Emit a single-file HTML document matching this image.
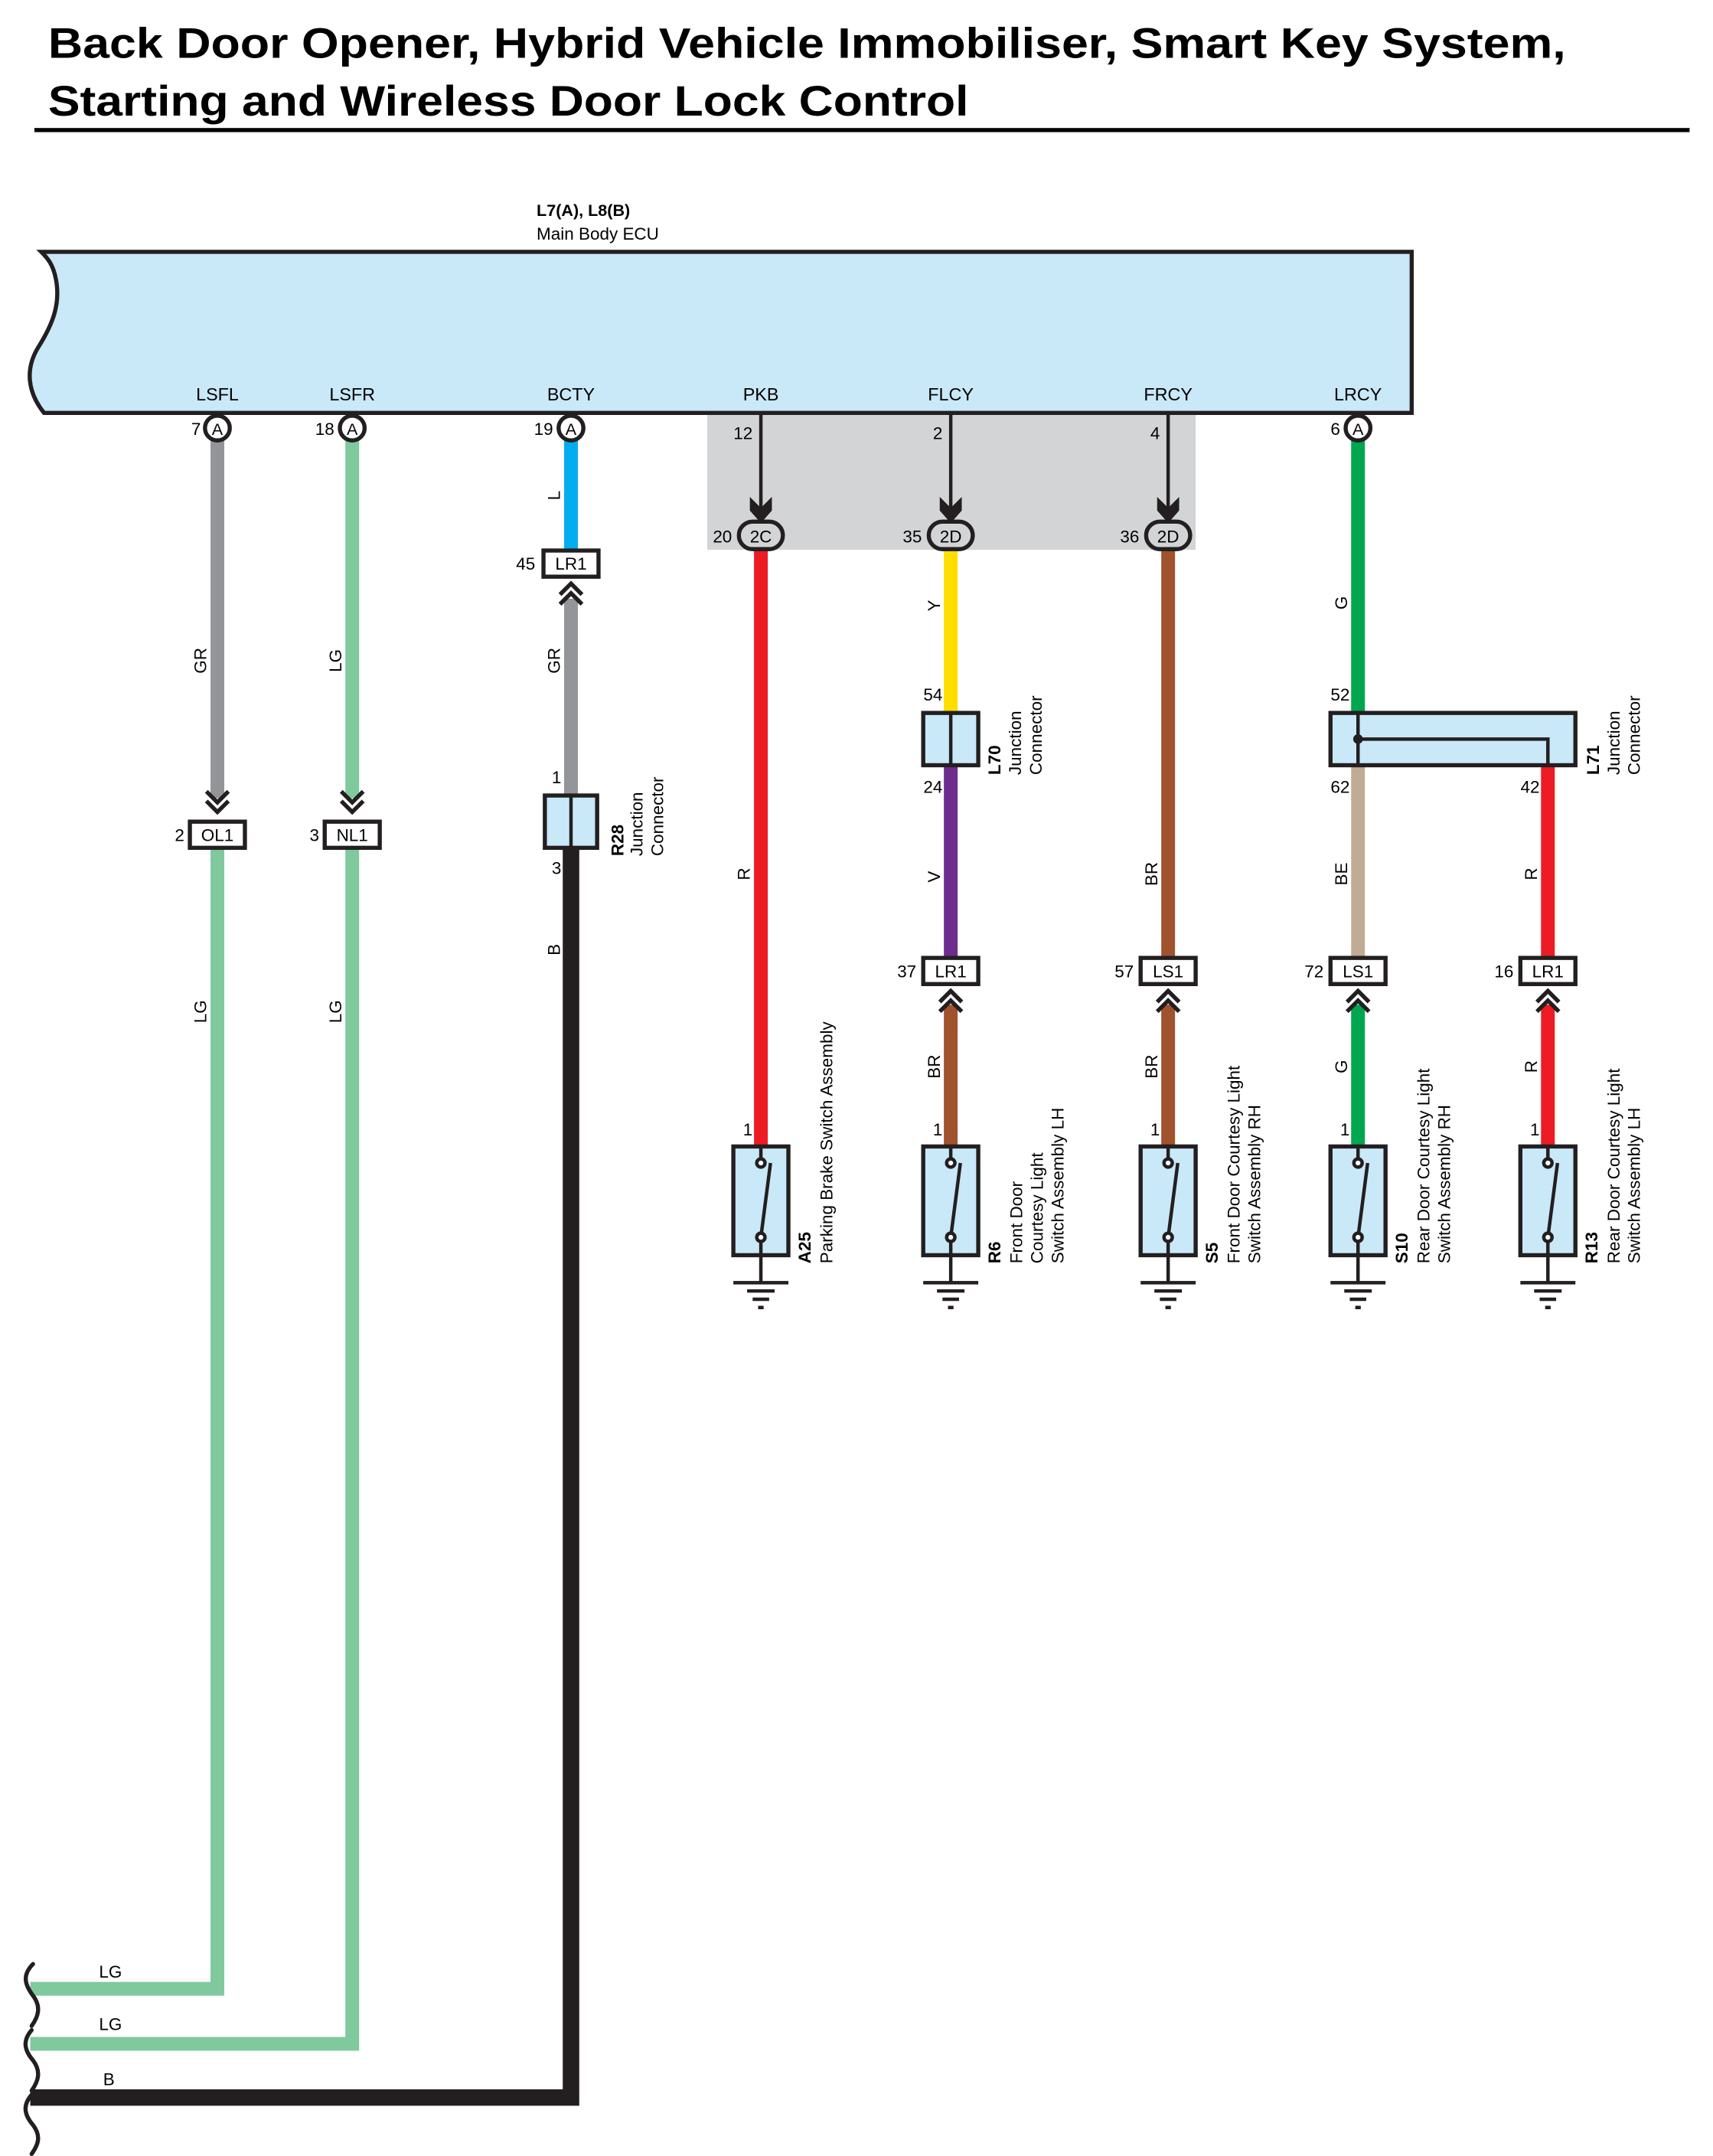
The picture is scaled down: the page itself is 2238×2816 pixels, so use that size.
<!DOCTYPE html>
<html><head><meta charset="utf-8"><style>html,body{margin:0;padding:0;background:#fff}svg{display:block}</style></head><body>
<svg width="2238" height="2816" viewBox="0 0 1245 1566.5" preserveAspectRatio="none" xmlns="http://www.w3.org/2000/svg" font-family="Liberation Sans, Arial, sans-serif">
<text x="35" y="42" font-size="31" font-weight="bold" fill="#000" textLength="1103" lengthAdjust="spacingAndGlyphs">Back Door Opener, Hybrid Vehicle Immobiliser, Smart Key System,</text>
<text x="35" y="84" font-size="31" font-weight="bold" fill="#000" textLength="669" lengthAdjust="spacingAndGlyphs">Starting and Wireless Door Lock Control</text>
<rect x="25" y="93" width="1203" height="3" fill="#000"/>
<text x="390" y="157" font-size="12" font-weight="bold">L7(A), L8(B)</text>
<text x="390" y="174" font-size="12.5">Main Body ECU</text>
<path d="M30,183 L1026,183 L1026,300 L32,300 C20,285 18,268 28,252 C38,236 45,220 40,200 C38,192 35,188 30,183 Z" fill="#c9e8f8" stroke="#231f20" stroke-width="3"/>
<rect x="514" y="301.5" width="355" height="98" fill="#d3d4d6"/>
<g font-size="13" text-anchor="middle"><text x="158" y="291">LSFL</text><text x="256" y="291">LSFR</text><text x="415" y="291">BCTY</text><text x="553" y="291">PKB</text><text x="691" y="291">FLCY</text><text x="849" y="291">FRCY</text><text x="987" y="291">LRCY</text></g>
<g fill="none" stroke-width="10">
<line x1="158" y1="318" x2="158" y2="580" stroke="#939598"/>
<path d="M158,616 L158,1445 L22,1445" stroke="#80c99d"/>
<line x1="256" y1="318" x2="256" y2="580" stroke="#80c99d"/>
<path d="M256,616 L256,1485 L22,1485" stroke="#80c99d"/>
<line x1="415" y1="318" x2="415" y2="400" stroke="#00aeef"/>
<line x1="415" y1="435" x2="415" y2="578" stroke="#939598"/>
<path d="M415,616 L415,1524 L22,1524" stroke="#231f20" stroke-width="12"/>
<line x1="553" y1="398" x2="553" y2="833" stroke="#ed1c24"/>
<line x1="691" y1="398" x2="691" y2="518" stroke="#ffde00"/>
<line x1="691" y1="556" x2="691" y2="696" stroke="#6f2c8f"/>
<line x1="691" y1="730" x2="691" y2="833" stroke="#a0522d"/>
<line x1="849" y1="398" x2="849" y2="696" stroke="#a0522d"/>
<line x1="849" y1="730" x2="849" y2="833" stroke="#a0522d"/>
<line x1="987" y1="318" x2="987" y2="518" stroke="#00a650"/>
<line x1="987" y1="556" x2="987" y2="696" stroke="#c2ab94"/>
<line x1="987" y1="730" x2="987" y2="833" stroke="#00a650"/>
<line x1="1125" y1="556" x2="1125" y2="696" stroke="#ed1c24"/>
<line x1="1125" y1="730" x2="1125" y2="833" stroke="#ed1c24"/>
</g>
<g fill="#fff" stroke="#231f20" stroke-width="3"><circle cx="158" cy="311" r="9"/><circle cx="256" cy="311" r="9"/><circle cx="415" cy="311" r="9"/><circle cx="987" cy="311" r="9"/></g>
<g font-size="12" text-anchor="middle"><text x="158" y="316">A</text><text x="256" y="316">A</text><text x="415" y="316">A</text><text x="987" y="316">A</text></g>
<g font-size="12.5" text-anchor="end"><text x="146" y="316">7</text><text x="243" y="316">18</text><text x="402" y="316">19</text><text x="974" y="316">6</text></g>
<g stroke="#231f20" stroke-width="2.5"><line x1="553" y1="300" x2="553" y2="370"/><line x1="691" y1="300" x2="691" y2="370"/><line x1="849" y1="300" x2="849" y2="370"/></g>
<g fill="#231f20"><polygon points="545,361 553,369 561,361 561,371 553,380 545,371"/><polygon points="683,361 691,369 699,361 699,371 691,380 683,371"/><polygon points="841,361 849,369 857,361 857,371 849,380 841,371"/></g>
<g fill="none" stroke="#231f20" stroke-width="3"><rect x="537" y="379" width="32" height="20" rx="10"/><rect x="675" y="379" width="32" height="20" rx="10"/><rect x="833" y="379" width="32" height="20" rx="10"/></g>
<g font-size="12.5" text-anchor="middle"><text x="553" y="394">2C</text><text x="691" y="394">2D</text><text x="849" y="394">2D</text></g>
<g font-size="12.5" text-anchor="end"><text x="532" y="394">20</text><text x="670" y="394">35</text><text x="828" y="394">36</text><text x="547" y="319">12</text><text x="685" y="319">2</text><text x="843" y="319">4</text></g>
<g fill="none" stroke="#231f20" stroke-width="3">
<polyline points="150,575 158,583 166,575"/><polyline points="150,582 158,590 166,582"/>
<polyline points="248,575 256,583 264,575"/><polyline points="248,582 256,590 264,582"/>
<polyline points="407,432 415,424 423,432"/><polyline points="407,439 415,431 423,439"/>
<polyline points="683,728 691,720 699,728"/><polyline points="683,735 691,727 699,735"/>
<polyline points="841,728 849,720 857,728"/><polyline points="841,735 849,727 857,735"/>
<polyline points="979,728 987,720 995,728"/><polyline points="979,735 987,727 995,735"/>
<polyline points="1117,728 1125,720 1133,728"/><polyline points="1117,735 1125,727 1133,735"/>
</g>
<g fill="#fff" stroke="#231f20" stroke-width="3">
<rect x="138" y="597" width="40" height="19"/><rect x="236" y="597" width="40" height="19"/>
<rect x="395" y="400" width="40" height="19"/>
<rect x="671" y="696" width="40" height="19"/><rect x="829" y="696" width="40" height="19"/><rect x="967" y="696" width="40" height="19"/><rect x="1105" y="696" width="40" height="19"/>
</g>
<g font-size="12.5" text-anchor="middle"><text x="158" y="611">OL1</text><text x="256" y="611">NL1</text><text x="415" y="414">LR1</text><text x="691" y="710">LR1</text><text x="849" y="710">LS1</text><text x="987" y="710">LS1</text><text x="1125" y="710">LR1</text></g>
<g font-size="12.5" text-anchor="end"><text x="134" y="611">2</text><text x="232" y="611">3</text><text x="389" y="414">45</text><text x="666" y="710">37</text><text x="824" y="710">57</text><text x="962" y="710">72</text><text x="1100" y="710">16</text>
<text x="408" y="569">1</text><text x="408" y="635">3</text><text x="685" y="509">54</text><text x="685" y="576">24</text><text x="981" y="509">52</text><text x="981" y="576">62</text><text x="1119" y="576">42</text>
<text x="547" y="825">1</text><text x="685" y="825">1</text><text x="843" y="825">1</text><text x="981" y="825">1</text><text x="1119" y="825">1</text></g>
<g fill="#c9e8f8" stroke="#231f20" stroke-width="3"><rect x="396" y="578" width="38" height="38"/><rect x="671" y="518" width="40" height="38"/><rect x="967" y="518" width="178" height="38"/></g>
<g stroke="#231f20" stroke-width="2.5" fill="none"><line x1="415" y1="578" x2="415" y2="616"/><line x1="691" y1="518" x2="691" y2="556"/><path d="M987,518 L987,556 M987,537 L1125,537 L1125,556"/></g>
<circle cx="987" cy="537" r="3.5" fill="#231f20"/>
<g fill="#c9e8f8" stroke="#231f20" stroke-width="3"><rect x="533" y="833" width="40" height="79"/><rect x="671" y="833" width="40" height="79"/><rect x="829" y="833" width="40" height="79"/><rect x="967" y="833" width="40" height="79"/><rect x="1105" y="833" width="40" height="79"/></g>
<g stroke="#231f20" stroke-width="2.5" fill="#fff">
<g><path d="M553,833v9M553,903v29M533,932h40M543,938h20M547,944h12M551,950h4" fill="none"/><line x1="553" y1="899" x2="560" y2="845"/><circle cx="553" cy="845" r="3"/><circle cx="553" cy="899" r="3"/></g>
<g transform="translate(138,0)"><path d="M553,833v9M553,903v29M533,932h40M543,938h20M547,944h12M551,950h4" fill="none"/><line x1="553" y1="899" x2="560" y2="845"/><circle cx="553" cy="845" r="3"/><circle cx="553" cy="899" r="3"/></g>
<g transform="translate(296,0)"><path d="M553,833v9M553,903v29M533,932h40M543,938h20M547,944h12M551,950h4" fill="none"/><line x1="553" y1="899" x2="560" y2="845"/><circle cx="553" cy="845" r="3"/><circle cx="553" cy="899" r="3"/></g>
<g transform="translate(434,0)"><path d="M553,833v9M553,903v29M533,932h40M543,938h20M547,944h12M551,950h4" fill="none"/><line x1="553" y1="899" x2="560" y2="845"/><circle cx="553" cy="845" r="3"/><circle cx="553" cy="899" r="3"/></g>
<g transform="translate(572,0)"><path d="M553,833v9M553,903v29M533,932h40M543,938h20M547,944h12M551,950h4" fill="none"/><line x1="553" y1="899" x2="560" y2="845"/><circle cx="553" cy="845" r="3"/><circle cx="553" cy="899" r="3"/></g>
</g>
<g font-size="12.5" text-anchor="middle">
<text transform="translate(150,480) rotate(-90)">GR</text><text transform="translate(150,735) rotate(-90)">LG</text>
<text transform="translate(248,480) rotate(-90)">LG</text><text transform="translate(248,735) rotate(-90)">LG</text>
<text transform="translate(407,360) rotate(-90)">L</text><text transform="translate(407,480) rotate(-90)">GR</text><text transform="translate(407,690) rotate(-90)">B</text>
<text transform="translate(545,635) rotate(-90)">R</text>
<text transform="translate(683,440) rotate(-90)">Y</text><text transform="translate(683,637) rotate(-90)">V</text><text transform="translate(683,775) rotate(-90)">BR</text>
<text transform="translate(841,635) rotate(-90)">BR</text><text transform="translate(841,775) rotate(-90)">BR</text>
<text transform="translate(979,438) rotate(-90)">G</text><text transform="translate(979,635) rotate(-90)">BE</text><text transform="translate(979,775) rotate(-90)">G</text>
<text transform="translate(1117,635) rotate(-90)">R</text><text transform="translate(1117,775) rotate(-90)">R</text>
</g>
<g font-size="12.5">
<text transform="translate(453,622) rotate(-90)" font-weight="bold">R28</text><text transform="translate(467,622) rotate(-90)">Junction</text><text transform="translate(482,622) rotate(-90)">Connector</text>
<text transform="translate(727,563) rotate(-90)" font-weight="bold">L70</text><text transform="translate(742,563) rotate(-90)">Junction</text><text transform="translate(757,563) rotate(-90)">Connector</text>
<text transform="translate(1162,563) rotate(-90)" font-weight="bold">L71</text><text transform="translate(1177,563) rotate(-90)">Junction</text><text transform="translate(1192,563) rotate(-90)">Connector</text>
<text transform="translate(589,918) rotate(-90)" font-weight="bold">A25</text><text transform="translate(605,918) rotate(-90)">Parking Brake Switch Assembly</text>
<text transform="translate(727,918) rotate(-90)" font-weight="bold">R6</text><text transform="translate(743,918) rotate(-90)">Front Door</text><text transform="translate(758,918) rotate(-90)">Courtesy Light</text><text transform="translate(773,918) rotate(-90)">Switch Assembly LH</text>
<text transform="translate(885,918) rotate(-90)" font-weight="bold">S5</text><text transform="translate(901,918) rotate(-90)">Front Door Courtesy Light</text><text transform="translate(916,918) rotate(-90)">Switch Assembly RH</text>
<text transform="translate(1023,918) rotate(-90)" font-weight="bold">S10</text><text transform="translate(1039,918) rotate(-90)">Rear Door Courtesy Light</text><text transform="translate(1054,918) rotate(-90)">Switch Assembly RH</text>
<text transform="translate(1161,918) rotate(-90)" font-weight="bold">R13</text><text transform="translate(1177,918) rotate(-90)">Rear Door Courtesy Light</text><text transform="translate(1192,918) rotate(-90)">Switch Assembly LH</text>
</g>
<g font-size="12.5"><text x="72" y="1437">LG</text><text x="72" y="1475">LG</text><text x="75" y="1515">B</text></g>
<g fill="none" stroke="#231f20" stroke-width="3" stroke-linecap="round">
<path d="M24,1427 C16,1435 18,1442 24,1450 C30,1458 28,1465 23,1472"/>
<path d="M23,1475 C16,1483 18,1490 24,1497 C30,1505 28,1512 23,1519"/>
<path d="M23,1522 C16,1530 18,1537 24,1544 C30,1552 28,1558 23,1565"/>
</g>
</svg>
</body></html>
